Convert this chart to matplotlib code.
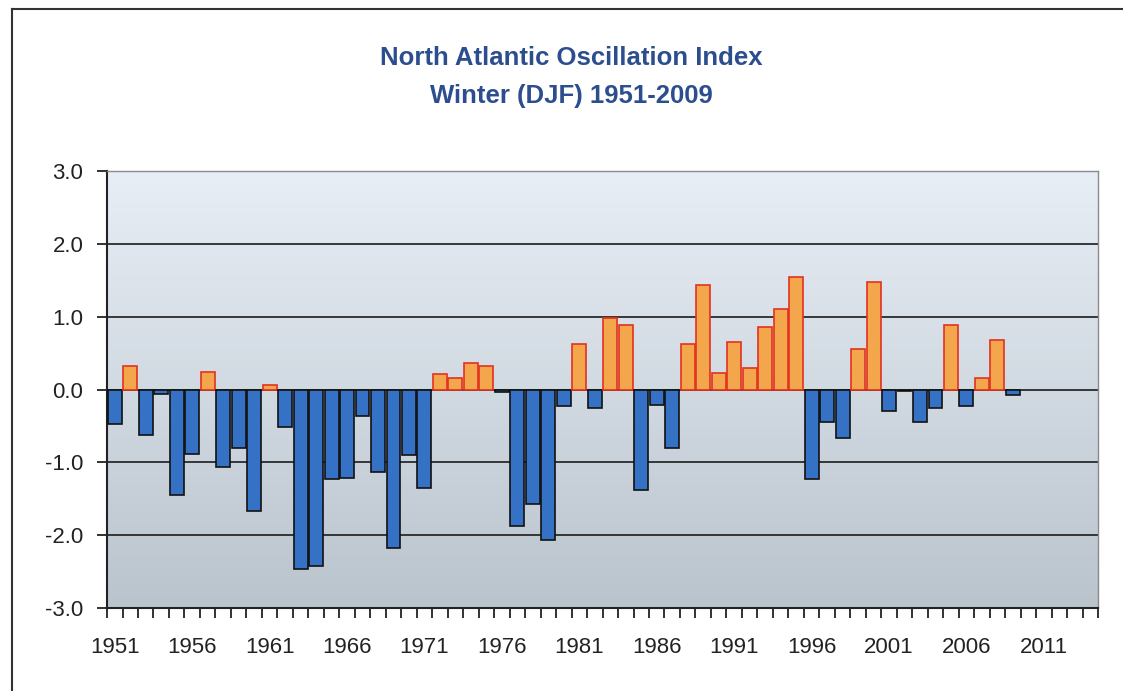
import numpy as np
import matplotlib
matplotlib.use("Agg")
import matplotlib.pyplot as plt
from matplotlib.lines import Line2D
from matplotlib.colors import LinearSegmentedColormap

years = list(range(1951, 2010))
nao = [-0.47, 0.32, -0.63, -0.06, -1.45, -0.89, 0.24, -1.07, -0.80, -1.67,
       0.06, -0.52, -2.47, -2.42, -1.23, -1.21, -0.37, -1.13, -2.17, -0.90,
       -1.35, 0.21, 0.16, 0.36, 0.32, -0.03, -1.87, -1.57, -2.07, -0.23,
       0.62, -0.25, 0.98, 0.89, -1.38, -0.21, -0.80, 0.62, 1.44, 0.23,
       0.65, 0.29, 0.86, 1.10, 1.55, -1.23, -0.45, -0.67, 0.56, 1.48,
       -0.30, -0.02, -0.44, -0.25, 0.89, -0.22, 0.16, 0.68, -0.07]
label_years = list(range(1951, 2012, 5))
y_ticks = [-3.0, -2.0, -1.0, 0.0, 1.0, 2.0, 3.0]
first_year, last_year = 1951, 2014

plt.rcParams['font.family'] = ['Liberation Sans', 'DejaVu Sans']

fig = plt.figure(figsize=(11.23, 6.91), dpi=100)
ax = fig.add_axes([0.0953, 0.1201, 0.8825, 0.6324])

# gradient background of plot area
grad = np.linspace(0, 1, 256).reshape(-1, 1)
cmap = LinearSegmentedColormap.from_list("bg", ["#bac4cd", "#e8eef6"])
ax.imshow(grad, extent=[0, 1, 0, 1], transform=ax.transAxes, cmap=cmap,
          aspect='auto', origin='lower', zorder=0)

vals = np.array(nao)
face = np.where(vals >= 0, "#f4a64c", "#3572c6")
edge = np.where(vals >= 0, "#e2321f", "#111111")
ax.bar(years, vals, width=0.9, color=face, edgecolor=edge, linewidth=1.2, zorder=3)

ax.set_xlim(first_year - 0.5, last_year + 0.5)
ax.set_ylim(-3, 3)
ax.set_yticks(y_ticks)
ax.set_yticklabels(["%.1f" % v for v in y_ticks])
for v in y_ticks[1:-1]:
    ax.axhline(v, color="#2a2a2a", lw=1.3, zorder=2)

ax.set_xticks(label_years)
ax.set_xticklabels([str(y) for y in label_years])
ax.set_xticks(np.arange(first_year - 0.5, last_year + 1), minor=True)
ax.tick_params(axis='x', which='major', length=0, pad=21, labelsize=16, colors="#222222")
ax.tick_params(axis='x', which='minor', length=7, width=1.3, color="#222222")
ax.tick_params(axis='y', length=7, width=1.3, pad=10, labelsize=16, colors="#222222")
for lbl in ax.get_xticklabels():
    lbl.set_x(lbl.get_position()[0])

for s in ["left", "bottom"]:
    ax.spines[s].set_color("#222222")
    ax.spines[s].set_linewidth(1.5)
for s in ["top", "right"]:
    ax.spines[s].set_color("#8a8a8a")
    ax.spines[s].set_linewidth(1.0)

fig.text(0.5085, 0.916, "North Atlantic Oscillation Index", ha='center', va='center',
         fontsize=18.5, fontweight='bold', color="#2d4e8e")
fig.text(0.5085, 0.861, "Winter (DJF) 1951-2009", ha='center', va='center',
         fontsize=18.5, fontweight='bold', color="#2d4e8e")

# outer frame
fig.add_artist(Line2D([0.0107, 1.0], [0.987, 0.987], transform=fig.transFigure,
                      color="#333333", lw=1.5))
fig.add_artist(Line2D([0.0107, 0.0107], [0.0, 0.987], transform=fig.transFigure,
                      color="#333333", lw=1.5))

fig.savefig("out.png", dpi=100)
